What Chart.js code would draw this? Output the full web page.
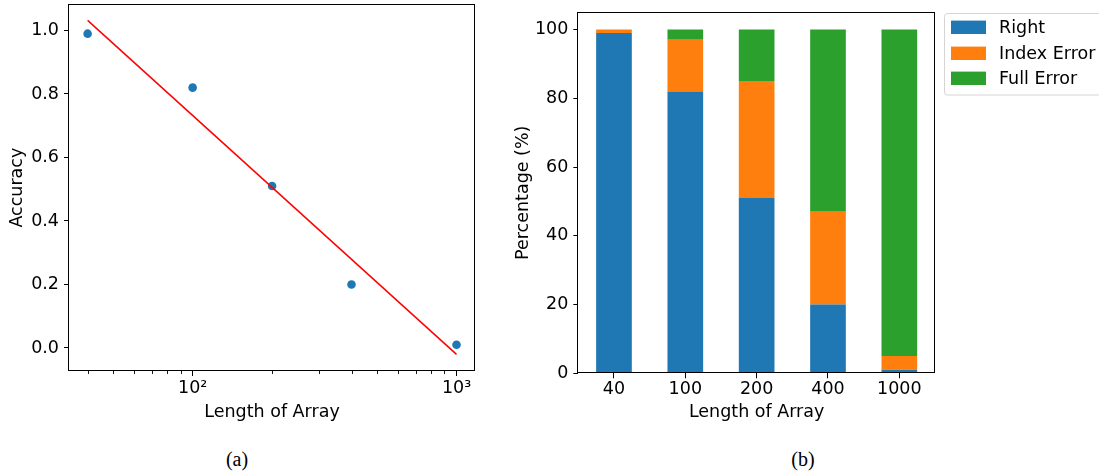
<!DOCTYPE html>
<html><head><meta charset="utf-8">
<script src="https://cdn.jsdelivr.net/npm/chart.js@4"></script>
<style>
html,body{margin:0;padding:0;background:#fff;width:1099px;height:475px;overflow:hidden;position:relative}
#ca{position:absolute;left:0;top:0}
#cb{position:absolute;left:500px;top:0}
.cap{position:absolute;top:447px;font-family:"Liberation Serif","Times New Roman",serif;font-size:20px;line-height:24px;transform:translateX(-50%);color:#000}
</style></head><body>
<canvas id="ca" width="500" height="430"></canvas>
<canvas id="cb" width="599" height="430"></canvas>
<div class="cap" style="left:237px">(a)</div>
<div class="cap" style="left:803px">(b)</div>
<script>
// ---- data ----
const lengths = [40, 100, 200, 400, 1000];
const accuracy = [0.99, 0.82, 0.51, 0.20, 0.01];
const fitX = [40, 1000];
const fitY = [1.032, -0.020];
const accTicks = [0, 0.2, 0.4, 0.6, 0.8, 1.0];
const logMajor = [100, 1000];
const logMajorLabels = ['10²', '10³'];
const logMinor = [40, 50, 60, 70, 80, 90, 200, 300, 400, 500, 600, 700, 800, 900];
const categories = ['40', '100', '200', '400', '1000'];
const rightPct = [99, 82, 51, 20, 1];
const indexErrPct = [1, 15, 34, 27, 4];
const fullErrPct = [0, 3, 15, 53, 95];
const pctTicks = [0, 20, 40, 60, 80, 100];
const seriesNames = ['Right', 'Index Error', 'Full Error'];
const seriesColors = ['#1f77b4', '#ff7f0e', '#2ca02c'];

const FONT = 'DejaVu Sans';
const FS = 17.5;
Chart.defaults.font.family = FONT;
Chart.defaults.font.size = FS;
Chart.defaults.color = '#000';
Chart.defaults.animation = false;

function fixW(w){ return function(s){ s.width = w; s.paddingTop = 0; s.paddingBottom = 0; s.paddingLeft = 0; s.paddingRight = 0; }; }
function fixH(h){ return function(s){ s.height = h; s.paddingTop = 0; s.paddingBottom = 0; s.paddingLeft = 0; s.paddingRight = 0; }; }

const framePlugin = {
  id: 'frame',
  afterDraw(chart){
    const a = chart.chartArea, c = chart.ctx;
    c.save();
    c.strokeStyle = '#000'; c.lineWidth = 1;
    const l = Math.round(a.left) - 0.5, t = Math.round(a.top) + 0.5;
    const r = Math.round(a.right) - 0.5, b = Math.round(a.bottom) - 0.5;
    c.strokeRect(l, t, r - l, b - t);
    c.restore();
  }
};

const minorTickPlugin = {
  id: 'minorTicks',
  afterDraw(chart){
    const xs = chart.scales.x, a = chart.chartArea, c = chart.ctx;
    c.save(); c.strokeStyle = '#000'; c.lineWidth = 0.9;
    logMinor.forEach(v => {
      const px = Math.round(xs.getPixelForValue(v)) + 0.5;
      c.beginPath(); c.moveTo(px, a.bottom); c.lineTo(px, a.bottom + 3); c.stroke();
    });
    c.restore();
  }
};

const tickGrid = { drawOnChartArea: false, drawTicks: true, tickLength: 5, tickColor: '#000', tickWidth: 1 };

// ---- chart (a) ----
new Chart(document.getElementById('ca'), {
  type: 'scatter',
  data: {
    datasets: [
      {
        type: 'line',
        data: fitX.map((x, i) => ({x: x, y: fitY[i]})),
        borderColor: '#ff0000', borderWidth: 1.5, pointRadius: 0, fill: false, order: 0
      },
      {
        data: lengths.map((x, i) => ({x: x, y: accuracy[i]})),
        backgroundColor: '#1f77b4', borderColor: '#1f77b4', borderWidth: 0,
        pointRadius: 4.3, order: 1
      }
    ]
  },
  options: {
    responsive: false,
    layout: { padding: { left: 0, top: 3, right: 25, bottom: 7.5 } },
    plugins: { legend: { display: false }, tooltip: { enabled: false } },
    scales: {
      x: {
        type: 'logarithmic', min: 34, max: 1175,
        border: { display: false },
        grid: tickGrid,
        afterBuildTicks: s => { s.ticks = logMajor.map(v => ({value: v})); },
        afterFit: fixH(51.5),
        ticks: { padding: 2, maxRotation: 0, autoSkip: false,
          callback: v => { const i = logMajor.indexOf(v); return i >= 0 ? logMajorLabels[i] : ''; } },
        title: { display: true, text: 'Length of Array', padding: { top: 0, bottom: 0 }, font: { size: FS } }
      },
      y: {
        type: 'linear', min: -0.0725, max: 1.0825,
        border: { display: false },
        grid: tickGrid,
        afterBuildTicks: s => { s.ticks = accTicks.map(v => ({value: v})); },
        afterFit: fixW(69),
        ticks: { padding: 5, callback: v => Number(v).toFixed(1) },
        title: { display: true, text: 'Accuracy', padding: { top: 6.5, bottom: 0 }, font: { size: FS } }
      }
    }
  },
  plugins: [framePlugin, minorTickPlugin]
});

// ---- chart (b) ----
const legendPlugin = {
  id: 'boxLegend',
  afterDraw(chart){
    const c = chart.ctx;
    c.save();
    const bx = 444.5, by = 13.5, bw = 200, bh = 81.5, rr = 3;
    c.beginPath();
    c.moveTo(bx + rr, by); c.lineTo(bx + bw, by); c.lineTo(bx + bw, by + bh);
    c.lineTo(bx + rr, by + bh); c.arcTo(bx, by + bh, bx, by + bh - rr, rr);
    c.lineTo(bx, by + rr); c.arcTo(bx, by, bx + rr, by, rr);
    c.closePath();
    c.fillStyle = 'rgba(255,255,255,0.8)'; c.fill();
    c.strokeStyle = '#d5d5d5'; c.lineWidth = 1; c.stroke();
    const rows = [27.3, 53.3, 78.3];
    c.font = FS + 'px "' + FONT + '"';
    c.textBaseline = 'middle'; c.textAlign = 'left';
    chart.data.datasets.forEach((ds, i) => {
      c.fillStyle = ds.backgroundColor;
      c.fillRect(451, rows[i] - 6.7, 35, 13.4);
      c.fillStyle = '#000';
      c.fillText(ds.label, 499, rows[i] + 1);
    });
    c.restore();
  }
};

new Chart(document.getElementById('cb'), {
  type: 'bar',
  data: {
    labels: categories,
    datasets: [
      { label: seriesNames[0], data: rightPct, backgroundColor: seriesColors[0] },
      { label: seriesNames[1], data: indexErrPct, backgroundColor: seriesColors[1] },
      { label: seriesNames[2], data: fullErrPct, backgroundColor: seriesColors[2] }
    ]
  },
  options: {
    responsive: false,
    barPercentage: 0.5, categoryPercentage: 1.0,
    layout: { padding: { left: 0, top: 12.3, right: 164, bottom: 7.5 } },
    plugins: { legend: { display: false }, tooltip: { enabled: false } },
    scales: {
      x: {
        stacked: true,
        border: { display: false },
        grid: Object.assign({}, tickGrid, { offset: false }),
        afterFit: fixH(49.2),
        ticks: { padding: 1, maxRotation: 0, autoSkip: false },
        title: { display: true, text: 'Length of Array', padding: { top: 0, bottom: 0 }, font: { size: FS } }
      },
      y: {
        stacked: true, min: 0, max: 105,
        border: { display: false },
        grid: tickGrid,
        afterBuildTicks: s => { s.ticks = pctTicks.map(v => ({value: v})); },
        afterFit: fixW(78.3),
        ticks: { padding: 5 },
        title: { display: true, text: 'Percentage (%)', padding: { top: 12.8, bottom: 0 }, font: { size: FS } }
      }
    }
  },
  plugins: [framePlugin, legendPlugin]
});
</script>
</body></html>
